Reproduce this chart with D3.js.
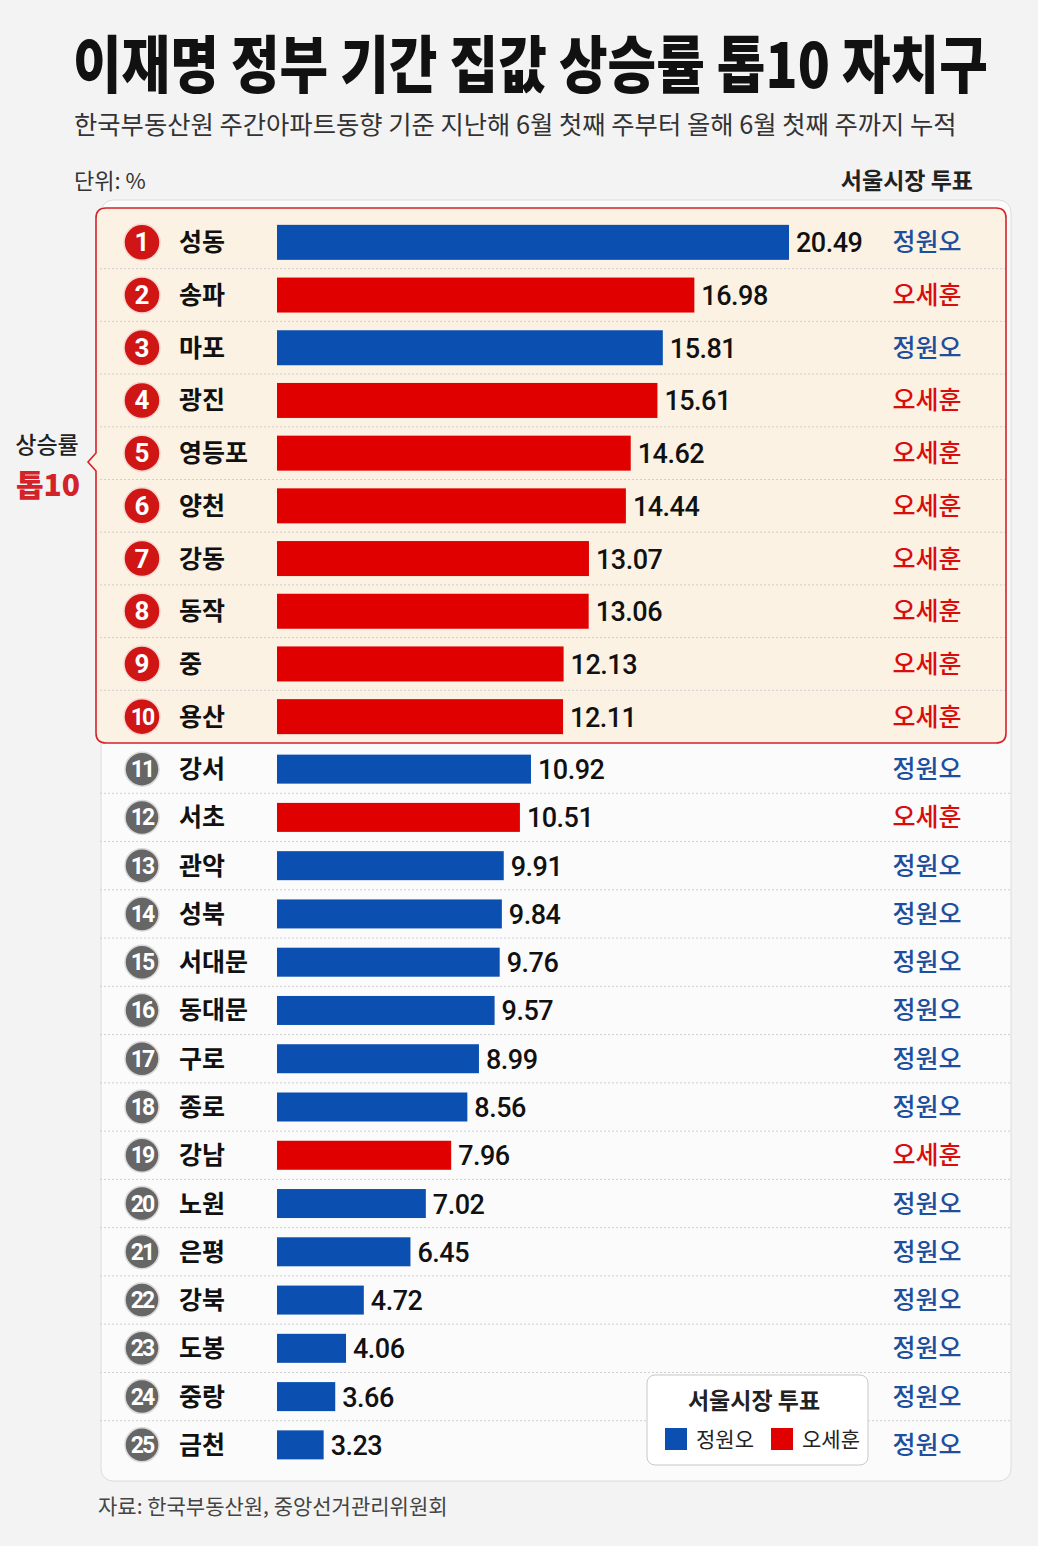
<!DOCTYPE html>
<html>
<head>
<meta charset="utf-8">
<script src="https://cdn.jsdelivr.net/npm/d3@7"></script>
<style>
  html, body { margin: 0; padding: 0; background: #f3f3f3; }
  svg { display: block; }
  text { font-family: "Noto Sans CJK KR", "Noto Sans", sans-serif; }
  .num { font-family: Roboto, "Noto Sans", sans-serif; }
</style>
</head>
<body>
<div class="draw"></div>
<script>
const districts = ["성동", "송파", "마포", "광진", "영등포", "양천", "강동", "동작", "중", "용산",
  "강서", "서초", "관악", "성북", "서대문", "동대문", "구로", "종로", "강남", "노원",
  "은평", "강북", "도봉", "중랑", "금천"];
const rates = [20.49, 16.98, 15.81, 15.61, 14.62, 14.44, 13.07, 13.06, 12.13, 12.11,
  10.92, 10.51, 9.91, 9.84, 9.76, 9.57, 8.99, 8.56, 7.96, 7.02,
  6.45, 4.72, 4.06, 3.66, 3.23];
const votes = ["정원오", "오세훈", "정원오", "오세훈", "오세훈", "오세훈", "오세훈", "오세훈", "오세훈", "오세훈",
  "정원오", "오세훈", "정원오", "정원오", "정원오", "정원오", "정원오", "정원오", "오세훈", "정원오",
  "정원오", "정원오", "정원오", "정원오", "정원오"];
const candidates = ["정원오", "오세훈"];

const data = districts.map((d, i) => ({ rank: i + 1, name: d, rate: rates[i], vote: votes[i] }));
const top10 = data.slice(0, 10);
const rest = data.slice(10);

const W = 1038, H = 1546;
const svg = d3.select(".draw")
    .append("svg")
    .attr("width", W)
    .attr("height", H);

const barColor = d3.scaleOrdinal().domain(candidates).range(["#0b4fb0", "#e00000"]);
const textColor = d3.scaleOrdinal().domain(candidates).range(["#1d4f9e", "#d80d0d"]);

// row scales (top 10 rows are taller than the rest)
const yTop = d3.scaleBand().domain(top10.map(d => d.name)).range([216, 743]);
const yRest = d3.scaleBand().domain(rest.map(d => d.name)).range([745, 1469]);
const x = d3.scaleLinear().domain([1.5, 20.49]).range([277, 789]);

//background panel
svg.append("rect")
    .attr("x", 101).attr("y", 200)
    .attr("width", 910).attr("height", 1281)
    .attr("rx", 12)
    .attr("fill", "#fbfbfb")
    .attr("stroke", "#dcdcdc");

//top10 box with a little notch on the left
const bx0 = 96, by0 = 208, bx1 = 1006, by1 = 743, r = 10, ny = 462;
const p = d3.path();
p.moveTo(bx0 + r, by0);
p.lineTo(bx1 - r, by0);
p.quadraticCurveTo(bx1, by0, bx1, by0 + r);
p.lineTo(bx1, by1 - r);
p.quadraticCurveTo(bx1, by1, bx1 - r, by1);
p.lineTo(bx0 + r, by1);
p.quadraticCurveTo(bx0, by1, bx0, by1 - r);
p.lineTo(bx0, ny + 9);
p.lineTo(bx0 - 8, ny);
p.lineTo(bx0, ny - 9);
p.lineTo(bx0, by0 + r);
p.quadraticCurveTo(bx0, by0, bx0 + r, by0);
p.closePath();
svg.append("path")
    .attr("d", p.toString())
    .attr("fill", "#fcf2e3")
    .attr("stroke", "#d2232a")
    .attr("stroke-width", 1.6);

//title + subtitle, squeezed horizontally to the reference width
function squeezed(txt, x0, y0, width, size, weight, color) {
  const g = svg.append("g");
  const t = g.append("text")
      .attr("font-size", size)
      .attr("font-weight", weight)
      .attr("fill", color)
      .text(txt);
  const len = t.node().getComputedTextLength();
  g.attr("transform", `translate(${x0}, ${y0}) scale(${width / len}, 1)`);
}
squeezed("이재명 정부 기간 집값 상승률 톱10 자치구", 73, 88, 915, 62, 900, "#111");
squeezed("한국부동산원 주간아파트동향 기준 지난해 6월 첫째 주부터 올해 6월 첫째 주까지 누적", 74, 134, 883, 25, 400, "#333");

svg.append("text")
    .attr("x", 74).attr("y", 189)
    .attr("font-size", 22)
    .attr("fill", "#333")
    .text("단위: %");

svg.append("text")
    .attr("x", 973).attr("y", 189)
    .attr("text-anchor", "end")
    .attr("font-size", 23)
    .attr("font-weight", 700)
    .attr("fill", "#222")
    .text("서울시장 투표");

//side label
svg.append("text")
    .attr("x", 47).attr("y", 453)
    .attr("text-anchor", "middle")
    .attr("font-size", 23)
    .attr("font-weight", 500)
    .attr("fill", "#222")
    .text("상승률");
svg.append("text")
    .attr("x", 48).attr("y", 496)
    .attr("text-anchor", "middle")
    .attr("font-size", 30)
    .attr("font-weight", 900)
    .attr("fill", "#d2232a")
    .text("톱10");

//rows
function drawRows(rows, y, barH, isTop) {
  const bw = y.bandwidth();
  const g = svg.append("g");

  // separator lines
  g.selectAll("line.sep")
    .data(rows.slice(1))
    .join("line")
    .attr("class", "sep")
    .attr("x1", 100).attr("x2", isTop ? 1005 : 1010)
    .attr("y1", d => y(d.name))
    .attr("y2", d => y(d.name))
    .attr("stroke", "#cfcfcf")
    .attr("stroke-dasharray", "2,2");

  const row = g.selectAll("g.row")
    .data(rows)
    .join("g")
    .attr("class", "row")
    .attr("transform", d => `translate(0, ${y(d.name) + bw / 2})`);

  row.append("circle")
    .attr("cx", 142).attr("cy", 0)
    .attr("r", isTop ? 18 : 17)
    .attr("fill", isTop ? "#d01515" : "#666")
    .attr("stroke", isTop ? "#f5d6d0" : "#d8d8d8")
    .attr("stroke-width", 1.5);

  row.append("text")
    .attr("class", "num")
    .attr("x", 142).attr("y", d => d.rank < 10 ? 9 : 8)
    .attr("text-anchor", "middle")
    .attr("font-size", d => d.rank < 10 ? 26 : 23)
    .attr("font-weight", 700)
    .attr("letter-spacing", d => d.rank < 10 ? 0 : -2)
    .attr("fill", "#fff")
    .text(d => d.rank);

  row.append("text")
    .attr("x", 179).attr("y", 9)
    .attr("font-size", 25)
    .attr("font-weight", 700)
    .attr("fill", "#111")
    .text(d => d.name);

  row.append("rect")
    .attr("x", x(x.domain()[0]))
    .attr("y", -barH / 2)
    .attr("width", d => x(d.rate) - x(x.domain()[0]))
    .attr("height", barH)
    .attr("fill", d => barColor(d.vote));

  row.append("text")
    .attr("class", "num")
    .attr("x", d => x(d.rate) + 7)
    .attr("y", 10)
    .attr("font-size", 27)
    .attr("font-weight", 500)
    .attr("letter-spacing", -0.5)
    .attr("fill", "#111")
    .text(d => d.rate.toFixed(2));

  row.append("text")
    .attr("x", 927).attr("y", 9)
    .attr("text-anchor", "middle")
    .attr("font-size", 25)
    .attr("font-weight", 500)
    .attr("fill", d => textColor(d.vote))
    .text(d => d.vote);
}

drawRows(top10, yTop, 35, true);
drawRows(rest, yRest, 29, false);

//legend
const legend = svg.append("g").attr("transform", "translate(647, 1375)");
legend.append("rect")
    .attr("width", 221).attr("height", 90)
    .attr("rx", 8)
    .attr("fill", "#fff")
    .attr("stroke", "#c8c8c8");
legend.append("text")
    .attr("x", 107).attr("y", 34)
    .attr("text-anchor", "middle")
    .attr("font-size", 23)
    .attr("font-weight", 700)
    .attr("fill", "#222")
    .text("서울시장 투표");
const item = legend.selectAll("g.item")
    .data(candidates)
    .join("g")
    .attr("class", "item")
    .attr("transform", (d, i) => `translate(${18 + i * 106}, 53)`);
item.append("rect")
    .attr("width", 22).attr("height", 22)
    .attr("fill", d => barColor(d));
item.append("text")
    .attr("x", 31).attr("y", 19)
    .attr("font-size", 21)
    .attr("fill", "#222")
    .text(d => d);

//source
svg.append("text")
    .attr("x", 98).attr("y", 1514)
    .attr("font-size", 21)
    .attr("fill", "#444")
    .text("자료: 한국부동산원, 중앙선거관리위원회");
</script>
</body>
</html>
